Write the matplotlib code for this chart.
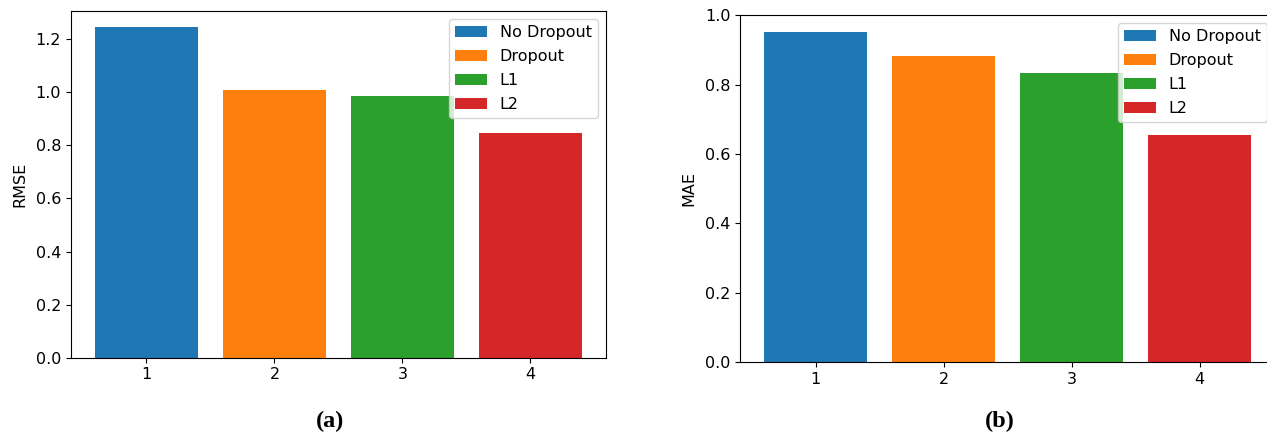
import matplotlib
matplotlib.use("Agg")
import matplotlib.pyplot as plt

positions = [1, 2, 3, 4]
labels = ["No Dropout", "Dropout", "L1", "L2"]
rmse = [1.244, 1.010, 0.985, 0.848]
mae = [0.953, 0.883, 0.833, 0.654]
colors = ["#1f77b4", "#ff7f0e", "#2ca02c", "#d62728"]
xticks = [1, 2, 3, 4]

FS = 11.5
fig = plt.figure(figsize=(12.67, 4.34), dpi=100)
ax1 = fig.add_axes([0.0560, 0.1758, 0.4223, 0.7989])
ax2 = fig.add_axes([0.5841, 0.1659, 0.4223, 0.7995])

for ax, vals, ylab in [(ax1, rmse, "RMSE"), (ax2, mae, "MAE")]:
    for p, v, c, l in zip(positions, vals, colors, labels):
        ax.bar(p, v, color=c, label=l)
    ax.set_xticks(xticks)
    ax.set_ylabel(ylab, fontsize=FS, labelpad=6)
    ax.tick_params(labelsize=FS)
    ax.legend(loc="upper right", fontsize=FS, labelspacing=0.55)

ax1.set_yticks([0.0, 0.2, 0.4, 0.6, 0.8, 1.0, 1.2])
ax2.set_yticks([0.0, 0.2, 0.4, 0.6, 0.8, 1.0])

fig.text(330 / 1267, 1 - 421 / 434, "(a)", ha="center", va="center",
         fontsize=17.5, fontweight="bold", family="Liberation Serif")
fig.text(1000 / 1267, 1 - 421 / 434, "(b)", ha="center", va="center",
         fontsize=17.5, fontweight="bold", family="Liberation Serif")

fig.savefig("out.png", dpi=100)
